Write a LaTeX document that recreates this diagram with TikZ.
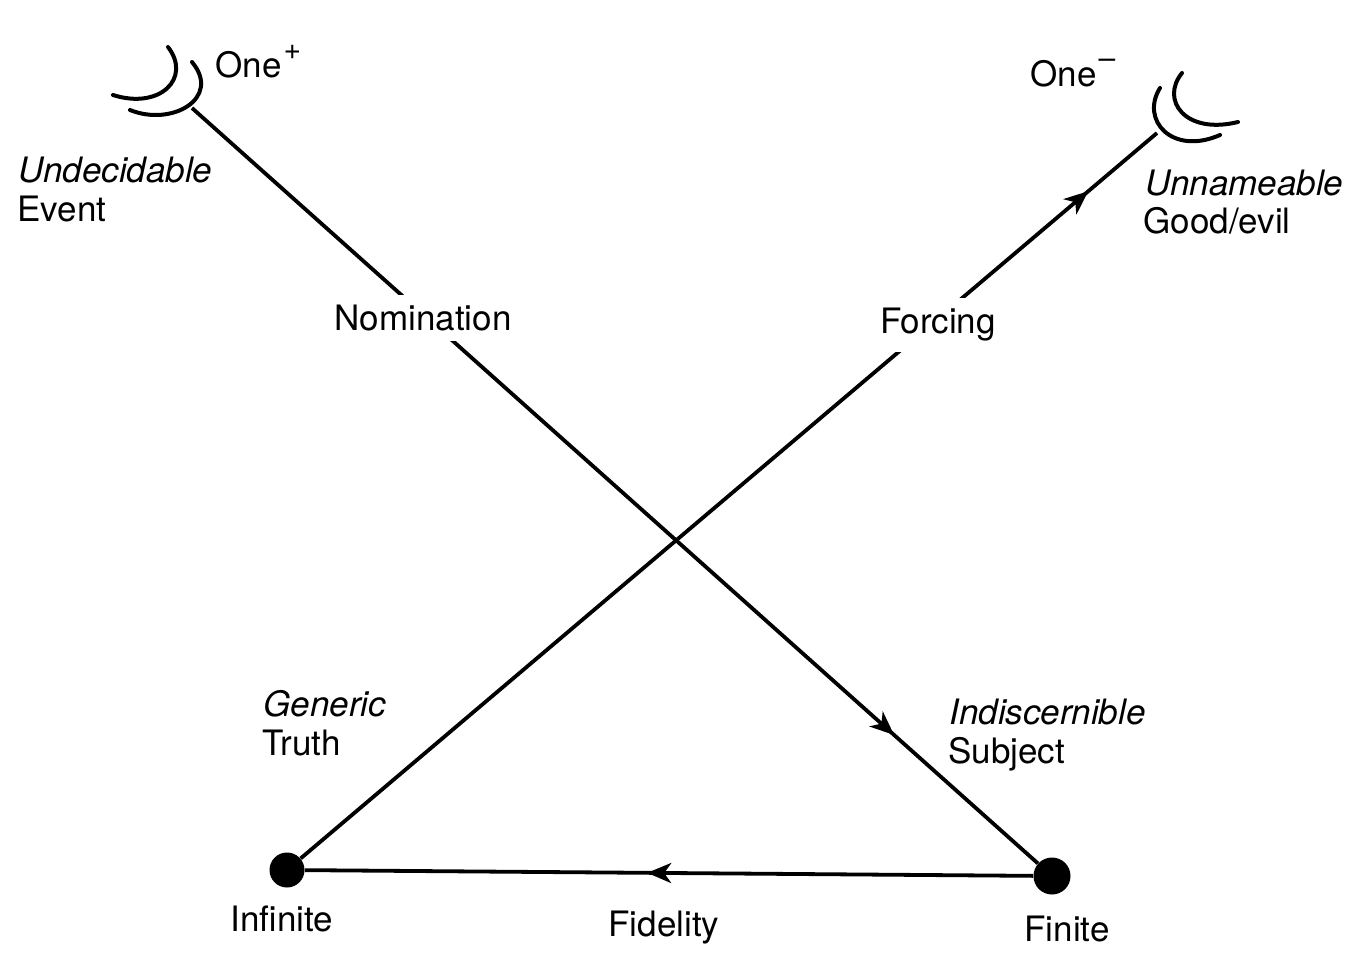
\documentclass[tikz,border=0pt]{standalone}
\usepackage{fontspec}
\setmainfont{TeX Gyre Heros}
\usetikzlibrary{arrows.meta,decorations.markings}
\newcommand{\supmark}[1]{\raisebox{0.5em}{\fontsize{15}{15}\selectfont #1}}
\begin{document}
\begin{tikzpicture}[x=0.5pt,y=-0.5pt,
  every node/.style={font=\fontsize{17.5}{21}\selectfont, inner sep=0pt},
  line/.style={line width=1.9pt},
  moon/.style={line width=2pt, line cap=round},
  dot/.style={circle, fill=black, minimum size=17.5pt},
  lbl/.style={fill=white, inner sep=5pt},
  txt/.style={anchor=base west},
  ctxt/.style={anchor=base},
  midarrow/.style={postaction={decorate}, decoration={markings,
     mark=at position #1 with {\arrow{Stealth[length=12pt,width=10pt,inset=3.5pt]}}}}
]
\useasboundingbox (0,0) rectangle (1362,954);

% points
\coordinate (tl) at (192,108);
\coordinate (tr) at (1157,133);
\node[dot] (inf) at (287,870) {};
\node[dot, minimum size=18.5pt] (fin) at (1052,876) {};

% crescents
\draw[moon] (113,95) .. controls (160,110) and (192,78) .. (168,47);
\draw[moon] (130,110) .. controls (172,127) and (222,98) .. (192,62);
\draw[moon] (1182,73) .. controls (1160,100) and (1185,135) .. (1238,122);
\draw[moon] (1160,88) .. controls (1140,120) and (1172,156) .. (1220,135);

% connectors
\draw[line, midarrow=0.83] (tl) -- (fin);
\draw[line, midarrow=0.92] (inf) -- (tr);
\draw[line, midarrow=0.53] (fin) -- (inf);

% mid labels (break the lines)
\node[lbl] (nom) at (423,318) {Nomination};
\node[lbl] (forc) at (938,325) {Forcing};

% texts
\node[txt] (oneplus) at (215,77) {One\kern1pt\supmark{+}};
\node[txt] (undec) at (18,182) {\itshape Undecidable};
\node[txt] (event) at (17,221) {Event};
\node[txt] (oneminus) at (1030,86) {One\kern1pt\supmark{\textendash}};
\node[txt] (unnam) at (1145,195) {\itshape Unnameable};
\node[txt] (good) at (1143,233) {Good/evil};
\node[txt] (gen) at (263,716) {\itshape Generic};
\node[txt] (truth) at (262,755) {Truth};
\node[txt] (indisc) at (949,724) {\itshape Indiscernible};
\node[txt] (subj) at (948,763) {Subject};
\node[ctxt] (infl) at (282,931) {Infinite};
\node[ctxt] (fid) at (664,936) {Fidelity};
\node[ctxt] (finl) at (1067,941) {Finite};
\end{tikzpicture}
\end{document}
